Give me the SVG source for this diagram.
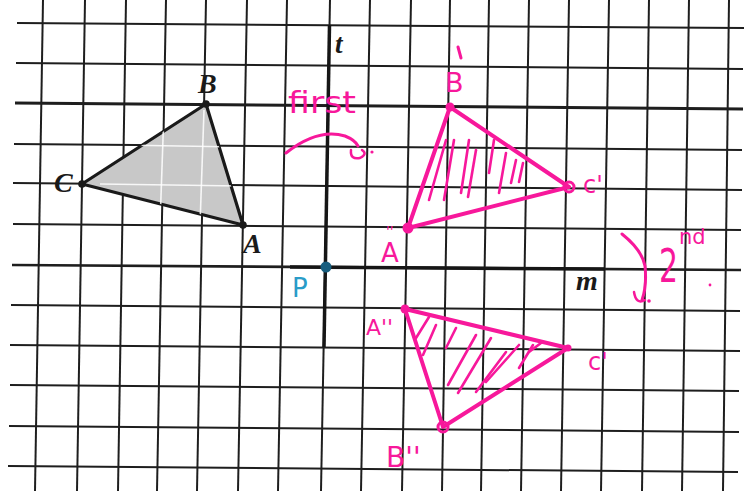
<svg xmlns="http://www.w3.org/2000/svg" width="753" height="495" viewBox="0 0 753 495">
<style>
.grid line{stroke:#1e1e1e;stroke-width:2;stroke-linecap:butt}
.axis{stroke:#161616;stroke-width:3.5;fill:none}
.lbl{font-family:"Liberation Serif","DejaVu Serif",serif;font-weight:bold;font-style:italic;fill:#1a1a1a}
.pk{stroke:#f7189b;fill:none;stroke-linecap:round;stroke-linejoin:round}
.pkt{font-family:"DejaVu Sans","Liberation Sans",sans-serif;fill:#f7189b}
.hatch line{stroke:#f7189b;stroke-width:2.6;stroke-linecap:round}
.wl line{stroke:#ffffff;stroke-width:1.6;opacity:0.85}
</style>
<defs>
<clipPath id="clipABC"><polygon points="206,104 82,184 243,225"/></clipPath>
</defs>
<rect width="753" height="495" fill="#ffffff"/>
<g id="grid" class="grid">
<line x1="43" y1="0" x2="35" y2="491"/>
<line x1="85" y1="0" x2="77" y2="491"/>
<line x1="126" y1="0" x2="118" y2="491"/>
<line x1="166" y1="0" x2="157" y2="491"/>
<line x1="206" y1="0" x2="197" y2="491"/>
<line x1="247" y1="0" x2="238" y2="491"/>
<line x1="287" y1="0" x2="278" y2="491"/>
<line x1="330" y1="0" x2="321" y2="491"/>
<line x1="370" y1="0" x2="361" y2="491"/>
<line x1="411" y1="0" x2="402" y2="491"/>
<line x1="450" y1="0" x2="442" y2="491"/>
<line x1="489" y1="0" x2="481" y2="491"/>
<line x1="529" y1="0" x2="521" y2="491"/>
<line x1="569" y1="0" x2="561" y2="491"/>
<line x1="609" y1="0" x2="601" y2="491"/>
<line x1="649" y1="0" x2="642" y2="491"/>
<line x1="689" y1="0" x2="682" y2="491"/>
<line x1="729" y1="0" x2="723" y2="491"/>
<line x1="17" y1="23" x2="744" y2="28"/>
<line x1="16" y1="63" x2="743" y2="69"/>
<line x1="15" y1="103" x2="743" y2="109" style="stroke-width:3"/>
<line x1="14" y1="144" x2="742" y2="150"/>
<line x1="13" y1="183" x2="742" y2="190"/>
<line x1="13" y1="224" x2="741" y2="230"/>
<line x1="12" y1="265" x2="741" y2="270" style="stroke-width:2.6"/>
<line x1="11" y1="305" x2="740" y2="311"/>
<line x1="10" y1="345" x2="740" y2="351"/>
<line x1="10" y1="385" x2="739" y2="391"/>
<line x1="9" y1="426" x2="739" y2="432"/>
<line x1="8" y1="466" x2="738" y2="472"/>
</g>
<g id="axes">
<line class="axis" x1="329.5" y1="25" x2="324" y2="347"/>
<line class="axis" x1="290" y1="267" x2="605" y2="269"/>
<text class="lbl" x="335" y="53" font-size="27">t</text>
<text class="lbl" x="576" y="290" font-size="28">m</text>
</g>
<g id="triangle-ABC">
<polygon points="206,104 82,184 243,225" fill="#c8c8c8" stroke="#1a1a1a" stroke-width="3.2" stroke-linejoin="round"/>
<g class="wl" clip-path="url(#clipABC)">
<line x1="120" y1="145" x2="238" y2="147"/>
<line x1="100" y1="184" x2="240" y2="186"/>
<line x1="164" y1="110" x2="160" y2="225"/>
<line x1="204" y1="110" x2="200" y2="225"/>
</g>
<circle cx="206" cy="104" r="3.8" fill="#1a1a1a"/>
<circle cx="82" cy="184" r="3.8" fill="#1a1a1a"/>
<circle cx="243" cy="225" r="3.8" fill="#1a1a1a"/>
<text class="lbl" x="198" y="93" font-size="28">B</text>
<text class="lbl" x="54" y="192" font-size="28">C</text>
<text class="lbl" x="243" y="253" font-size="28">A</text>
</g>
<g id="point-P">
<circle cx="326" cy="267" r="5.5" fill="#175d7e"/>
<text x="292" y="297" font-family="DejaVu Sans, sans-serif" font-size="26" fill="#2a9cc8">P</text>
</g>
<g id="triangle-A1B1C1">
<g class="hatch">
<line x1="446" y1="140" x2="429" y2="200"/>
<line x1="454" y1="140" x2="444" y2="200"/>
<line x1="469" y1="140" x2="461" y2="193"/>
<line x1="476" y1="150" x2="468" y2="197"/>
<line x1="494" y1="140" x2="489" y2="173"/>
<line x1="506" y1="153" x2="499" y2="193"/>
<line x1="516" y1="160" x2="511" y2="183"/>
<line x1="523" y1="163" x2="519" y2="182"/>
</g>
<polygon class="pk" points="450,107 569,187 408,228" stroke-width="4"/>
<circle cx="450" cy="107" r="4.5" fill="#f7189b"/>
<circle cx="569" cy="187" r="5" fill="none" stroke="#f7189b" stroke-width="3"/>
<circle cx="408" cy="228" r="5.5" fill="#f7189b"/>
<text class="pkt" x="445" y="92" font-size="27">B</text>
<line class="pk" x1="458" y1="47" x2="461" y2="58" stroke-width="3"/>
<text class="pkt" x="583" y="193" font-size="24">c'</text>
<text class="pkt" x="381" y="262" font-size="26">A</text>
<text class="pkt" x="386" y="236" font-size="14">''</text>
</g>
<g id="triangle-A2B2C2">
<g class="hatch">
<line x1="429" y1="317" x2="416" y2="338"/>
<line x1="436" y1="325" x2="423" y2="355"/>
<line x1="456" y1="328" x2="446" y2="348"/>
<line x1="476" y1="335" x2="448" y2="385"/>
<line x1="491" y1="338" x2="458" y2="393"/>
<line x1="506" y1="352" x2="476" y2="392"/>
<line x1="519" y1="345" x2="486" y2="382"/>
<line x1="533" y1="345" x2="519" y2="368"/>
<line x1="541" y1="343" x2="529" y2="352"/>
</g>
<polygon class="pk" points="405,309 568,348 443,427" stroke-width="4"/>
<circle cx="405" cy="309" r="4.5" fill="#f7189b"/>
<circle cx="568" cy="348" r="3.5" fill="#f7189b"/>
<circle cx="443" cy="427" r="5" fill="none" stroke="#f7189b" stroke-width="3"/>
<text class="pkt" x="366" y="335" font-size="22">A''</text>
<text class="pkt" x="588" y="370" font-size="24">c'</text>
<text class="pkt" x="386" y="467" font-size="28">B''</text>
</g>
<g id="annotations">
<text class="pkt" x="288" y="113" font-size="30" textLength="68" lengthAdjust="spacingAndGlyphs">first</text>
<path class="pk" d="M286,153 Q318,128 345,136 Q355,140 358,146" stroke-width="3"/>
<path class="pk" d="M351,150 Q350,160 360,158 Q368,154 362,150" stroke-width="2.5"/>
<circle cx="372" cy="152" r="1.6" fill="#f7189b"/>
<text class="pkt" transform="translate(659,282) scale(0.65,1)" font-size="46">2</text>
<text class="pkt" x="679" y="244" font-size="21">nd</text>
<path class="pk" d="M622,234 Q642,250 645,266 Q647,286 642,300" stroke-width="3"/>
<path class="pk" d="M634,292 Q636,305 645,300" stroke-width="2.5"/>
<circle cx="649" cy="301" r="1.8" fill="#f7189b"/>
<circle cx="710" cy="285" r="1.4" fill="#f7189b"/>
</g>
</svg>
